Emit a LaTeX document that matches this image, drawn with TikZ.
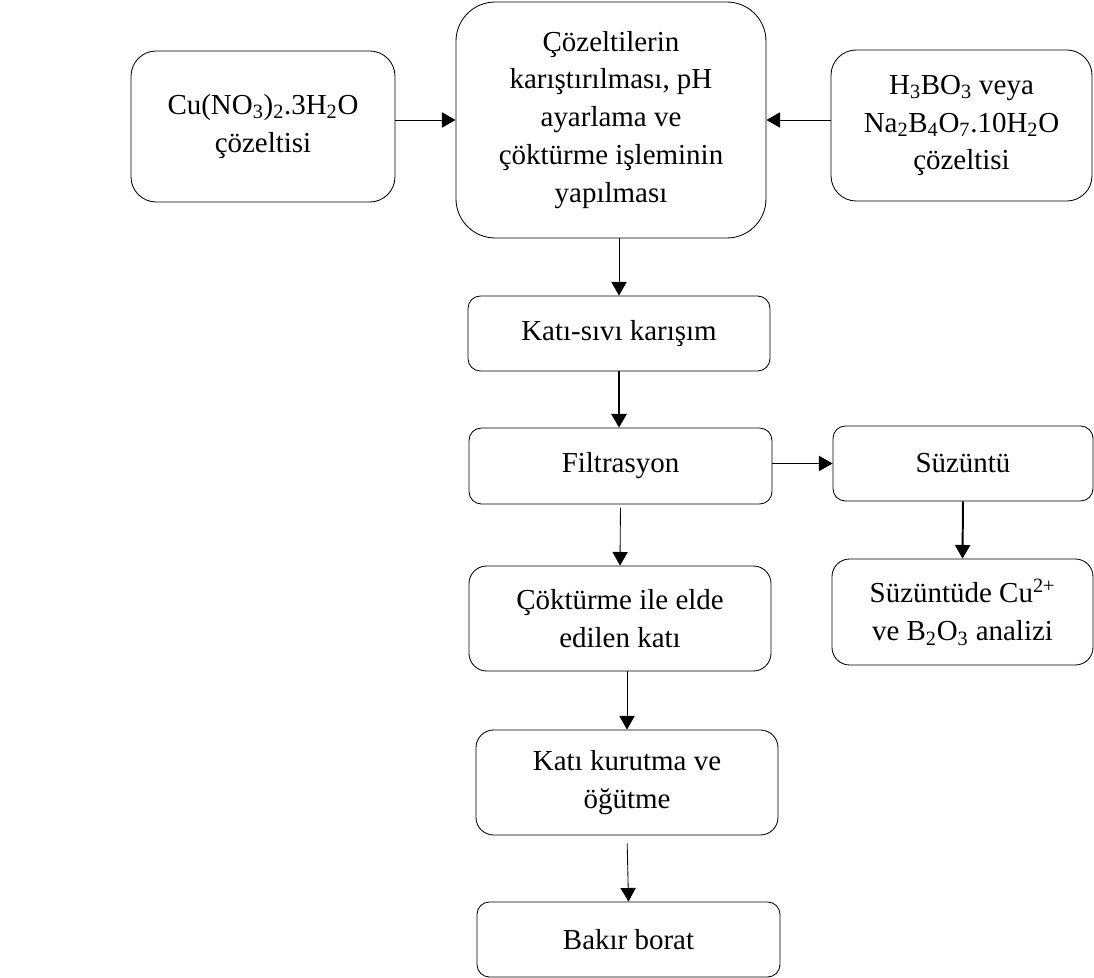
\documentclass[tikz,border=0pt]{standalone}
\usepackage{fontspec}
\setmainfont{Liberation Serif}
\usetikzlibrary{positioning,arrows.meta}

\begin{document}
\begin{tikzpicture}[
  box/.style={draw, line width=0.6pt, align=center, inner sep=0pt,
    font=\fontsize{20.6pt}{27pt}\selectfont},
  smallbox/.style={box, rounded corners=3.1mm, minimum height=1.875cm},
  midbox/.style={box, rounded corners=4.4mm, minimum height=2.625cm},
  bigbox/.style={box, rounded corners=6.3mm},
  flow/.style={draw, line width=0.6pt, -{Triangle[length=3.4mm,width=3.8mm]}},
  boldflow/.style={flow, line width=1.4pt}
]
  \useasboundingbox (0,0) rectangle (27.35,-24.45);

  % top row
  \node[bigbox, minimum width=6.6cm, minimum height=3.775cm] (cu) at (6.575,-3.1625)
    {Cu(NO\textsubscript{3})\textsubscript{2}.3H\textsubscript{2}O\\çözeltisi};
  \node[box, rounded corners=9.8mm, minimum width=7.75cm, minimum height=5.9cm] (mix) at (15.275,-3.0)
    {Çözeltilerin\\karıştırılması, pH\\ayarlama ve\\çöktürme işleminin\\yapılması};
  \node[bigbox, minimum width=6.525cm, minimum height=3.775cm] (bor) at (24.0375,-3.1375)
    {H\textsubscript{3}BO\textsubscript{3} veya\\Na\textsubscript{2}B\textsubscript{4}O\textsubscript{7}.10H\textsubscript{2}O\\çözeltisi};

  % main column
  \node[smallbox, minimum width=7.55cm] (kss) at (15.475,-8.3375) {Katı-sıvı karışım};
  \node[smallbox, minimum width=7.575cm, minimum height=1.9cm] (fil) at (15.5125,-11.65) {Filtrasyon};
  \node[midbox, minimum width=7.55cm] (cok) at (15.5,-15.4625) {Çöktürme ile elde\\edilen katı};
  \node[midbox, minimum width=7.55cm] (kur) at (15.675,-19.5625) {Katı kurutma ve\\öğütme};
  \node[smallbox, minimum width=7.575cm] (bak) at (15.7125,-23.4875) {Bakır borat};

  % filtrate column
  \node[smallbox, minimum width=6.5cm] (suz) at (24.075,-11.5875) {Süzüntü};
  \node[midbox, minimum width=6.525cm, minimum height=2.65cm] (ana) at (24.0625,-15.3)
    {Süzüntüde Cu\textsuperscript{2+}\\ve B\textsubscript{2}O\textsubscript{3} analizi};

  \draw[flow] (cu.east |- mix.west) -- (mix.west);
  \draw[flow] (bor.west |- mix.east) -- (mix.east);
  \draw[flow] (kss.north |- mix.south) -- (kss.north);
  \draw[boldflow] (kss.south) -- (kss.south |- fil.north);
  \draw[flow] (fil.east |- suz.west) -- (suz.west);
  \draw[flow, shorten <=0.08cm] (fil.south) -- (cok.north);
  \draw[boldflow] (suz.south) -- (ana.north);
  \draw[flow] (kur.north |- cok.south) -- (kur.north);
  \draw[flow, shorten <=0.2cm] (kur.south) -- (bak.north);
\end{tikzpicture}
\end{document}
